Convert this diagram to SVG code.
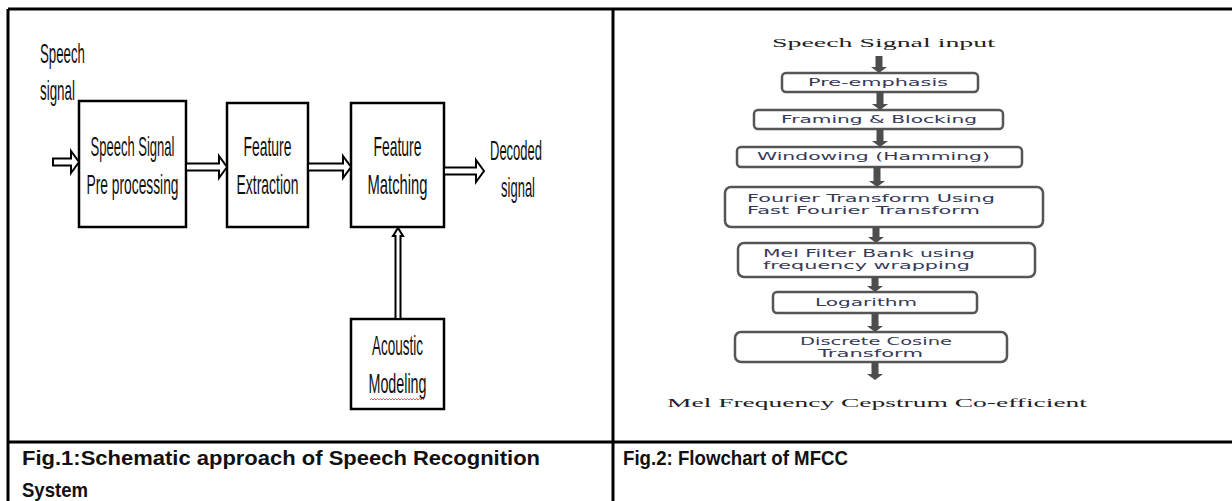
<svg xmlns="http://www.w3.org/2000/svg" width="1232" height="501" viewBox="0 0 1232 501">
<style>
.tbl{stroke:#000;stroke-width:3;fill:none}
.blk{fill:#fff;stroke:#000;stroke-width:2.5}
.cal{font-family:"Liberation Sans",Arial,sans-serif;font-size:27px;fill:#111;text-anchor:middle}
.calL{font-family:"Liberation Sans",Arial,sans-serif;font-size:27px;fill:#111}
.harr{fill:#fff;stroke:#000;stroke-width:2}
.rbox{fill:#fff;stroke:#555;stroke-width:2.5}
.rtxt{font-family:"DejaVu Sans",sans-serif;font-size:10.5px;fill:#363a58}
.ser{font-family:"Liberation Serif","Times New Roman",serif;font-size:13px;fill:#222}
.farr{fill:#4d4d4d}
.cap{font-family:"Liberation Sans",Arial,sans-serif;font-weight:bold;font-size:20.5px;fill:#111}
</style>
<rect width="1232" height="501" fill="#fff"/>
<g id="table">
<line class="tbl" x1="8" y1="9" x2="1232" y2="9"/>
<line class="tbl" x1="8" y1="9" x2="8" y2="501"/>
<line class="tbl" x1="613" y1="9" x2="613" y2="501"/>
<line class="tbl" x1="8" y1="442" x2="1232" y2="442"/>
</g>
<g id="captions">
<text class="cap" x="22" y="465" textLength="518" lengthAdjust="spacingAndGlyphs">Fig.1:Schematic approach of Speech Recognition</text>
<text class="cap" x="22" y="497" textLength="66" lengthAdjust="spacingAndGlyphs">System</text>
<text class="cap" x="623" y="465" textLength="225" lengthAdjust="spacingAndGlyphs">Fig.2: Flowchart of MFCC</text>
</g>
<!-- Fig 1 -->
<g id="label-speech-signal">
<text class="calL" transform="translate(40 63) scale(0.55 1)" textLength="81.8" lengthAdjust="spacingAndGlyphs">Speech</text>
<text class="calL" transform="translate(40 100) scale(0.55 1)" textLength="63.6" lengthAdjust="spacingAndGlyphs">signal</text>
</g>
<g id="node-preprocessing">
<rect class="blk" x="79" y="101" width="107" height="126"/>
<text class="cal" transform="translate(132.5 156) scale(0.55 1)" textLength="152.7" lengthAdjust="spacingAndGlyphs">Speech Signal</text>
<text class="cal" transform="translate(132.5 194) scale(0.55 1)" textLength="167.3" lengthAdjust="spacingAndGlyphs">Pre processing</text>
</g>
<g id="node-extraction">
<rect class="blk" x="227" y="103" width="81" height="124"/>
<text class="cal" transform="translate(267.5 156) scale(0.55 1)" textLength="87.3" lengthAdjust="spacingAndGlyphs">Feature</text>
<text class="cal" transform="translate(267.5 194) scale(0.55 1)" textLength="112.7" lengthAdjust="spacingAndGlyphs">Extraction</text>
</g>
<g id="node-matching">
<rect class="blk" x="351" y="103" width="93" height="124"/>
<text class="cal" transform="translate(397.5 156) scale(0.55 1)" textLength="87.3" lengthAdjust="spacingAndGlyphs">Feature</text>
<text class="cal" transform="translate(397.5 194) scale(0.55 1)" textLength="109.1" lengthAdjust="spacingAndGlyphs">Matching</text>
</g>
<g id="node-acoustic">
<rect class="blk" x="351" y="319" width="93" height="90"/>
<text class="cal" transform="translate(397.5 355) scale(0.55 1)" textLength="92.7" lengthAdjust="spacingAndGlyphs">Acoustic</text>
<text class="cal" transform="translate(397.5 393) scale(0.55 1)" textLength="105.5" lengthAdjust="spacingAndGlyphs">Modeling</text>
<path d="M370 400 l1.5 -1.5 l1.5 1.5 l1.5 -1.5 l1.5 1.5 l1.5 -1.5 l1.5 1.5 l1.5 -1.5 l1.5 1.5 l1.5 -1.5 l1.5 1.5 l1.5 -1.5 l1.5 1.5 l1.5 -1.5 l1.5 1.5 l1.5 -1.5 l1.5 1.5 l1.5 -1.5 l1.5 1.5 l1.5 -1.5 l1.5 1.5 l1.5 -1.5 l1.5 1.5 l1.5 -1.5 l1.5 1.5 l1.5 -1.5 l1.5 1.5 l1.5 -1.5 l1.5 1.5 l1.5 -1.5 l1.5 1.5 l1.5 -1.5 l1.5 1.5 l1.5 -1.5 l1.5 1.5 l1.5 -1.5 l1.5 1.5" fill="none" stroke="#e03030" stroke-width="0.8"/>
</g>
<g id="label-decoded">
<text class="cal" transform="translate(516 160) scale(0.55 1)" textLength="94.5" lengthAdjust="spacingAndGlyphs">Decoded</text>
<text class="cal" transform="translate(518 197) scale(0.55 1)" textLength="61.8" lengthAdjust="spacingAndGlyphs">signal</text>
</g>
<g id="connectors-fig1">
<polygon class="harr" points="53,158.5 71,158.5 71,151 79,162 71,173 71,165.5 53,165.5"/>
<polygon class="harr" points="186,163.5 219,163.5 219,156 227,167 219,178 219,170.5 186,170.5"/>
<polygon class="harr" points="308,163.5 343,163.5 343,156 351,167 343,178 343,170.5 308,170.5"/>
<polygon class="harr" points="444,167.5 476,167.5 476,160 484,171 476,182 476,174.5 444,174.5"/>
<polygon class="harr" points="395.5,319 395.5,236 393,236 398,228 403,236 400.5,236 400.5,319"/>
</g>
<!-- Fig 2 -->
<g id="label-input">
<text class="ser" x="772" y="47" textLength="223" lengthAdjust="spacingAndGlyphs">Speech Signal input</text>
</g>
<g id="node-preemphasis">
<rect class="rbox" x="782" y="73" width="196" height="19" rx="4"/>
<text class="rtxt" x="808" y="86" textLength="140" lengthAdjust="spacingAndGlyphs">Pre-emphasis</text>
</g>
<g id="node-framing">
<rect class="rbox" x="754" y="110" width="249" height="19" rx="4"/>
<text class="rtxt" x="781" y="123" textLength="196" lengthAdjust="spacingAndGlyphs">Framing &amp; Blocking</text>
</g>
<g id="node-windowing">
<rect class="rbox" x="737" y="147" width="285" height="20" rx="4"/>
<text class="rtxt" x="757" y="160" textLength="233" lengthAdjust="spacingAndGlyphs">Windowing (Hamming)</text>
</g>
<g id="node-fft">
<rect class="rbox" x="725" y="187" width="318" height="40" rx="6"/>
<text class="rtxt" x="747" y="202" textLength="248" lengthAdjust="spacingAndGlyphs">Fourier Transform Using</text>
<text class="rtxt" x="747" y="214" textLength="233" lengthAdjust="spacingAndGlyphs">Fast Fourier Transform</text>
</g>
<g id="node-mel">
<rect class="rbox" x="738" y="243" width="297" height="34" rx="6"/>
<text class="rtxt" x="763" y="257" textLength="212" lengthAdjust="spacingAndGlyphs">Mel Filter Bank using</text>
<text class="rtxt" x="763" y="269" textLength="207" lengthAdjust="spacingAndGlyphs">frequency wrapping</text>
</g>
<g id="node-log">
<rect class="rbox" x="773" y="292" width="204" height="21" rx="4"/>
<text class="rtxt" x="815" y="306" textLength="102" lengthAdjust="spacingAndGlyphs">Logarithm</text>
</g>
<g id="node-dct">
<rect class="rbox" x="735" y="332" width="272" height="30" rx="6"/>
<text class="rtxt" x="800" y="345" textLength="152" lengthAdjust="spacingAndGlyphs">Discrete Cosine</text>
<text class="rtxt" x="818" y="357" textLength="105" lengthAdjust="spacingAndGlyphs">Transform</text>
</g>
<g id="label-output">
<text class="ser" x="667" y="407" textLength="420" lengthAdjust="spacingAndGlyphs">Mel Frequency Cepstrum Co-efficient</text>
</g>
<g id="connectors-fig2">
<polygon class="farr" points="875.5,56 882.5,56 882.5,67 887,67 879,73 871,67 875.5,67"/>
<polygon class="farr" points="876.5,92 883.5,92 883.5,104 888,104 880,110 872,104 876.5,104"/>
<polygon class="farr" points="876.5,129 883.5,129 883.5,141 888,141 880,147 872,141 876.5,141"/>
<polygon class="farr" points="873.5,167 880.5,167 880.5,181 885,181 877,187 869,181 873.5,181"/>
<polygon class="farr" points="872.5,227 879.5,227 879.5,237 884,237 876,243 868,237 872.5,237"/>
<polygon class="farr" points="871.5,277 878.5,277 878.5,286 883,286 875,292 867,286 871.5,286"/>
<polygon class="farr" points="871.5,313 878.5,313 878.5,326 883,326 875,332 867,326 871.5,326"/>
<polygon class="farr" points="871.5,362 878.5,362 878.5,374 883,374 875,380 867,374 871.5,374"/>
</g>
</svg>
